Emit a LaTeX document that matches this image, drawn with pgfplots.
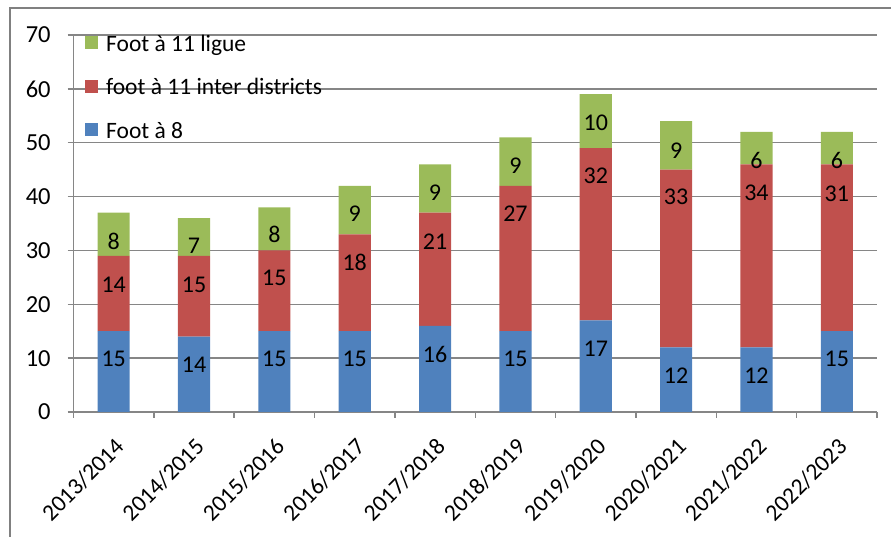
\documentclass[border=0pt]{standalone}
\usepackage{pgfplots}
\pgfplotsset{compat=1.18}
\usepackage{pgfplotstable}
\usepackage{fontspec}
\setmainfont{Carlito}
\definecolor{cblue}{HTML}{4F81BD}
\definecolor{cred}{HTML}{C0504D}
\definecolor{cgreen}{HTML}{9BBB59}
\definecolor{gridgray}{HTML}{868686}
\definecolor{framegray}{HTML}{808080}

\pgfplotstableread{
x blue red green
0 15 14 8
1 14 15 7
2 15 15 8
3 15 18 9
4 16 21 9
5 15 27 9
6 17 32 10
7 12 33 9
8 12 34 6
9 15 31 6
}\datatable

% label positions (visual centres of the printed values)
\pgfplotstableread{
x yb lb yr lr yg lg
0 9.8 15 23.6 14 31.6 8
1 8.7 14 23.6 15 30.8 7
2 9.8 15 24.9 15 32.9 8
3 9.8 15 27.7 18 36.8 9
4 10.6 16 31.6 21 40.7 9
5 9.8 15 36.8 27 45.7 9
6 11.7 17 43.8 32 53.7 10
7 6.7 12 39.9 33 48.6 9
8 6.7 12 40.7 34 46.7 6
9 9.8 15 40.6 31 46.7 6
}\labeltable

\newcommand{\tickfont}{\fontsize{24.5}{24.5}\selectfont}
\newcommand{\xtickfont}{\fontsize{23.5}{23.5}\selectfont}
\newcommand{\legfont}{\fontsize{23.5}{23.5}\selectfont}
\newcommand{\labfont}{\fontsize{24}{24}\selectfont}

\begin{document}
\begin{tikzpicture}[x=1pt,y=1pt]
\useasboundingbox (0,0) rectangle (891,537);
\draw[framegray, line width=2.5pt] (10,0) -- (10,529) -- (891,529);
\begin{axis}[
  at={(73.5pt,125pt)}, anchor=south west,
  scale only axis, width=803.5pt, height=377pt,
  ybar stacked, bar width=0.4,
  xmin=-0.5, xmax=9.5, ymin=0, ymax=70,
  axis lines=left, axis line style={-, gridgray, line width=1.5pt},
  ymajorgrids, grid style={gridgray, line width=1.5pt},
  ytick={0,10,...,70},
  tick align=outside, major tick length=6pt,
  tick style={gridgray, line width=1.5pt},
  xtick={-0.5,0.5,...,9.5}, xticklabels={},
  extra x ticks={0,...,9},
  extra x tick labels={2013/2014,2014/2015,2015/2016,2016/2017,2017/2018,2018/2019,2019/2020,2020/2021,2021/2022,2022/2023},
  extra x tick style={major tick length=0pt, xticklabel style={xshift=6.2pt, yshift=-30.7pt, rotate=45, anchor=east, inner sep=0pt, font=\xtickfont}},
  yticklabel style={font=\tickfont, anchor=east, inner sep=0pt, xshift=-16.7pt},
  /pgf/number format/assume math mode=true,
  reverse legend,
  legend style={at={(axis description cs:0.0143,0.997)}, anchor=north west,
    draw=none, fill=none, inner sep=0pt, row sep=23.5pt, column sep=8pt,
    font=\legfont, nodes={inner sep=0pt, text height=15pt, text depth=5pt}},
  legend cell align=left,
  legend image code/.code={\fill[#1] (0pt,-3pt) rectangle (13pt,10pt);},
]
\addplot[fill=cblue, draw=none] table[x=x, y=blue] {\datatable};
\addplot[fill=cred, draw=none] table[x=x, y=red] {\datatable};
\addplot[fill=cgreen, draw=none] table[x=x, y=green] {\datatable};
\legend{Foot à 8, foot à 11 inter districts, Foot à 11 ligue}
\end{axis}
\begin{axis}[
  at={(73.5pt,125pt)}, anchor=south west,
  scale only axis, width=803.5pt, height=377pt,
  xmin=-0.5, xmax=9.5, ymin=0, ymax=70,
  hide axis,
  nodes near coords, point meta=explicit symbolic,
  every node near coord/.style={anchor=center, font=\labfont, text=black, inner sep=0pt},
]
\addplot[draw=none, mark=none] table[x=x, y=yb, meta=lb] {\labeltable};
\addplot[draw=none, mark=none] table[x=x, y=yr, meta=lr] {\labeltable};
\addplot[draw=none, mark=none] table[x=x, y=yg, meta=lg] {\labeltable};
\end{axis}
\end{tikzpicture}
\end{document}
